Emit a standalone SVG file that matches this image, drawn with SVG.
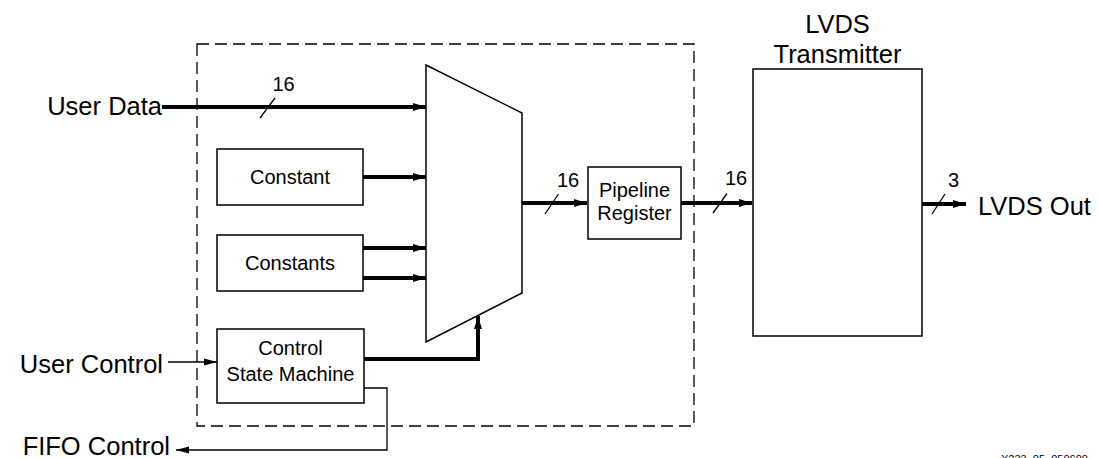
<svg xmlns="http://www.w3.org/2000/svg" width="1098" height="458" viewBox="0 0 1098 458">
<style>
text{font-family:"Liberation Sans",Arial,sans-serif;fill:#000}
.big{font-size:25.5px}
.mid{font-size:20px}
.box{fill:#fff;stroke:#000;stroke-width:1.5}
.thick{fill:none;stroke:#000;stroke-width:4}
.thin{fill:none;stroke:#000;stroke-width:1.3}
.slash{stroke:#000;stroke-width:1.3}
</style>
<defs>
<marker id="ah" markerWidth="14" markerHeight="10" refX="13" refY="5" orient="auto" markerUnits="userSpaceOnUse"><path d="M0,1 L13,5 L0,9 Z" fill="#000"/></marker>
<marker id="ahs" markerWidth="14" markerHeight="10" refX="13" refY="5" orient="auto" markerUnits="userSpaceOnUse"><path d="M0,1.5 L13,5 L0,8.5 Z" fill="#000"/></marker>
</defs>
<rect id="boundary" x="197" y="44" width="497" height="382" fill="none" stroke="#000" stroke-width="1.3" stroke-dasharray="12 6"/>
<g id="mux"><polygon class="box" points="426,65 522,113 522,293 426,342"/></g>
<g id="constant"><rect class="box" x="217" y="149" width="146" height="56"/><text class="mid" x="290" y="184" text-anchor="middle">Constant</text></g>
<g id="constants"><rect class="box" x="217" y="235" width="146" height="56"/><text class="mid" x="290" y="270" text-anchor="middle">Constants</text></g>
<g id="csm"><rect class="box" x="217" y="329" width="147" height="74"/><text class="mid" x="290.5" y="355" text-anchor="middle">Control</text><text class="mid" x="290.5" y="381" text-anchor="middle">State Machine</text></g>
<g id="pipeline"><rect class="box" x="588" y="167" width="93" height="72"/><text class="mid" x="634.5" y="197" text-anchor="middle">Pipeline</text><text class="mid" x="634.5" y="220" text-anchor="middle">Register</text></g>
<g id="lvds"><rect class="box" x="753" y="69" width="169" height="267"/><text class="big" x="837.5" y="33" text-anchor="middle">LVDS</text><text class="big" x="837.5" y="63" text-anchor="middle">Transmitter</text></g>
<g id="labels">
<text class="big" x="162" y="115" text-anchor="end">User Data</text>
<text class="big" x="163" y="373" text-anchor="end">User Control</text>
<text class="big" x="170" y="455" text-anchor="end">FIFO Control</text>
<text class="big" x="978" y="215">LVDS Out</text>
<text x="1001" y="463" font-size="11">X233_05_050600</text>
</g>
<g id="connectors">
<path class="thick" d="M162,107 H426" marker-end="url(#ah)"/>
<line class="slash" x1="275" y1="98" x2="260" y2="118"/>
<text class="mid" x="283.5" y="91" text-anchor="middle">16</text>
<path class="thick" d="M363,177 H426" marker-end="url(#ah)"/>
<path class="thick" d="M363,248 H426" marker-end="url(#ah)"/>
<path class="thick" d="M363,278 H426" marker-end="url(#ah)"/>
<path class="thick" d="M364,359 H478 V316" marker-end="url(#ah)"/>
<path class="thin" d="M168,362 H217" marker-end="url(#ahs)"/>
<path class="thin" d="M364,388 H387 V450 H176" marker-end="url(#ahs)"/>
<path class="thick" d="M522,203 H587" marker-end="url(#ah)"/>
<line class="slash" x1="558.5" y1="194" x2="545" y2="214"/>
<text class="mid" x="568" y="187" text-anchor="middle">16</text>
<path class="thick" d="M681,203 H752" marker-end="url(#ah)"/>
<line class="slash" x1="727" y1="193.5" x2="713" y2="213"/>
<text class="mid" x="736" y="185" text-anchor="middle">16</text>
<path class="thick" d="M922,204 H966" marker-end="url(#ah)"/>
<line class="slash" x1="945" y1="194" x2="932" y2="214"/>
<text class="mid" x="953.5" y="187" text-anchor="middle">3</text>
</g>
</svg>
